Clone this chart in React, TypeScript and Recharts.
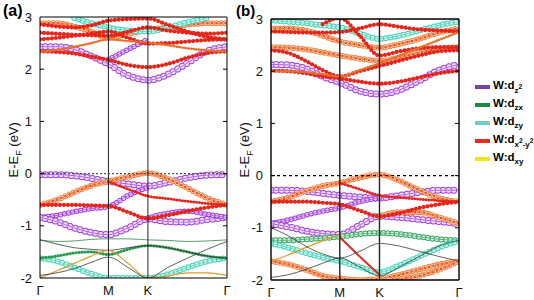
import React from "react";
import { LineChart, Line, XAxis, YAxis, ReferenceLine } from "recharts";

// k-path Γ-M-K-Γ, sampled at 11 points (fractions of the path length)
const kPos = [0, 0.144, 0.289, 0.433, 0.577, 0.744, 0.91, 1.077, 1.244, 1.41, 1.577];
const kTicks = [0, 0.577, 0.91, 1.577];
const kLabels = ["Γ", "M", "K", "Γ"];
const eTicks = [-2, -1, 0, 1, 2, 3];

type Band = (number | null)[];
const _ = null;

// ---- panel (a) ----
const bandsA: Band[] = [
  [2.43, 2.43, 2.38, 2.25, 2.1, 1.88, 1.79, 1.9, 2.12, 2.35, 2.43],
  [2.34, 2.33, 2.3, 2.24, 2.18, 2.08, 2.04, 2.1, 2.22, 2.31, 2.34],
  [2.57, 2.6, 2.64, 2.68, 2.72, 2.6, 2.49, 2.5, 2.53, 2.56, 2.57],
  [2.88, 2.88, 2.82, 2.72, 2.6, 2.68, 2.75, 2.8, 2.85, 2.88, 2.88],
  [2.86, 2.82, 2.8, 2.84, 2.93, 2.96, 2.97, 2.85, 2.72, 2.62, 2.57],
  [2.7, 2.68, 2.66, 2.65, 2.64, 2.72, 2.8, 2.74, 2.7, 2.68, 2.7],
  [_, _, 2.98, 2.88, 2.8, 2.74, 2.72, 2.8, 2.9, 2.98, _],
  [_, _, _, _, 2.18, 2.38, 2.57, _, _, _, _],
  [2.33, 2.37, 2.43, 2.5, 2.57, 2.54, 2.51, 2.46, 2.4, 2.36, 2.34],
  [-0.02, -0.02, -0.04, -0.09, -0.15, -0.2, -0.24, -0.17, -0.08, -0.03, -0.02],
  [-0.6, -0.5, -0.36, -0.23, -0.15, -0.06, 0.01, -0.1, -0.28, -0.47, -0.6],
  [-0.6, -0.6, -0.6, -0.61, -0.62, -0.74, -0.86, -0.8, -0.72, -0.65, -0.6],
  [_, _, _, _, -0.15, -0.3, -0.43, -0.48, -0.53, -0.57, -0.6],
  [-0.84, -0.8, -0.73, -0.67, -0.63, -0.42, -0.26, _, _, _, _],
  [-0.84, -0.92, -1.04, -1.13, -1.17, -1.04, -0.87, -0.92, -0.93, -0.88, -0.84],
  [_, _, _, _, _, _, -0.85, -0.76, -0.72, -0.78, -0.84],
  [-1.27, -1.3, -1.29, -1.26, -1.25, -1.25, -1.27, -1.28, -1.3, -1.29, -1.27],
  [-1.27, -1.35, -1.42, -1.45, -1.47, -1.42, -1.38, -1.42, -1.5, -1.58, -1.62],
  [-1.62, -1.68, -1.8, -1.92, -2.0, -2.0, -2.0, -1.93, -1.8, -1.68, -1.62],
  [-1.62, -1.58, -1.52, -1.5, -1.55, -1.45, -1.38, -1.42, -1.5, -1.58, -1.62],
  [-2.0, -1.86, -1.72, -1.58, -1.47, -1.72, -2.0, -1.96, -1.9, -1.9, -1.95],
  [-1.95, -1.9, -1.82, -1.7, -1.6, -1.8, -2.0, -1.8, -1.62, -1.45, -1.3],
];
const kindsA = [
  "z2", "red", "red", "orn", "red", "red", "teal", "z2m", "ornS",
  "z2", "orn", "red", "redS", "z2m", "z2", "z2m",
  "thinG", "thin", "teal", "green", "thinO", "thin",
];

// ---- panel (b) ----
const bandsB: Band[] = [
  [2.13, 2.12, 2.05, 1.9, 1.78, 1.62, 1.56, 1.64, 1.82, 2.02, 2.13],
  [2.01, 2.0, 1.96, 1.9, 1.86, 1.8, 1.76, 1.8, 1.88, 1.96, 2.01],
  [2.46, 2.45, 2.42, 2.36, 2.3, 2.24, 2.2, 2.26, 2.36, 2.43, 2.46],
  [2.4, 2.35, 2.2, 2.02, 1.9, 2.0, 2.1, 2.2, 2.3, 2.38, 2.4],
  [2.82, 2.82, 2.78, 2.68, 2.57, 2.5, 2.45, 2.52, 2.62, 2.74, 2.82],
  [_, _, _, 2.9, 3.02, 2.68, 2.3, 2.38, 2.44, 2.46, 2.46],
  [2.97, 2.95, 2.92, 2.88, 2.84, 2.72, 2.62, 2.68, 2.78, 2.88, 2.95],
  [2.76, 2.75, 2.74, 2.74, 2.75, 2.82, 2.9, 2.85, 2.8, 2.78, 2.76],
  [2.0, 2.0, 1.98, 1.94, 1.9, 2.02, 2.15, 2.3, 2.45, 2.6, 2.75],
  [-0.28, -0.28, -0.3, -0.34, -0.38, -0.41, -0.43, -0.38, -0.32, -0.28, -0.28],
  [-0.5, -0.42, -0.3, -0.2, -0.14, -0.04, 0.02, -0.1, -0.28, -0.43, -0.5],
  [-0.5, -0.5, -0.5, -0.52, -0.55, -0.67, -0.78, -0.72, -0.62, -0.55, -0.5],
  [_, _, _, _, -0.14, -0.26, -0.38, -0.42, -0.45, -0.48, -0.5],
  [-0.92, -0.85, -0.76, -0.68, -0.62, -0.5, -0.43, _, _, _, _],
  [-0.92, -0.98, -1.06, -1.11, -1.13, -0.95, -0.78, -0.8, -0.84, -0.88, -0.92],
  [_, _, _, _, _, _, -0.78, -0.7, -0.7, -0.8, -0.92],
  [-1.24, -1.24, -1.22, -1.2, -1.17, -1.12, -1.1, -1.12, -1.17, -1.22, -1.24],
  [-1.3, -1.38, -1.48, -1.57, -1.64, -1.75, -1.85, -1.72, -1.55, -1.38, -1.25],
  [-1.64, -1.7, -1.8, -1.92, -1.97, -2.0, -1.98, -1.9, -1.8, -1.7, -1.64],
  [_, _, _, _, _, _, -2.0, -1.98, -1.92, -1.8, -1.64],
  [_, _, _, _, -1.18, -1.55, -1.9, _, _, _, _],
  [-1.64, -1.52, -1.38, -1.25, -1.13, _, _, _, _, _, _],
  [-1.0, -1.15, -1.35, -1.5, -1.58, -1.45, -1.3, -1.35, -1.45, -1.55, -1.64],
  [-1.95, -1.9, -1.8, -1.68, -1.58, -1.75, -1.92, -1.75, -1.55, -1.35, -1.24],
];
const kindsB = [
  "z2", "red", "orn", "red", "orn", "red", "teal", "red", "ornS",
  "z2", "orn", "red", "redS", "z2m", "z2", "orn",
  "greenR", "teal", "orn", "orn", "redL", "thinO", "thin", "thin",
];

const legendItems = [
  { color: "#7b3fa5", main: "W:d", sub: <>z<sup>2</sup></> },
  { color: "#1d8b3d", main: "W:d", sub: <>zx</> },
  { color: "#73cbc2", main: "W:d", sub: <>zy</> },
  { color: "#f0281e", main: "W:d", sub: <>x<sup>2</sup>-y<sup>2</sup></> },
  { color: "#f4e41c", main: "W:d", sub: <>xy</> },
];

type Sty = { c: string; w: number; ring?: boolean; core?: string; coreW?: number; lw?: number; layer: number };
const STYLE: Record<string, Sty> = {
  z2: { c: "#a13de0", w: 7, ring: true, layer: 0 },
  z2m: { c: "#a13de0", w: 5.5, ring: true, layer: 0 },
  orn: { c: "#f0873c", w: 6, ring: true, core: "#e5281c", coreW: 2.6, layer: 0 },
  teal: { c: "#3fd3b6", w: 6, ring: true, layer: 0 },
  greenR: { c: "#35a860", w: 6, ring: true, layer: 0 },
  red: { c: "#e3261b", w: 4.2, layer: 1 },
  redS: { c: "#e3261b", w: 3, layer: 1 },
  ornS: { c: "#e8702a", w: 2.6, layer: 1 },
  green: { c: "#2c9a52", w: 3.2, layer: 1 },
  redL: { c: "#d8301e", w: 0, lw: 2, layer: 2 },
  thin: { c: "#3a3a3a", w: 0, layer: 2 },
  thinG: { c: "#2b8a4a", w: 0, layer: 2 },
  thinO: { c: "#e39a2a", w: 0, lw: 1.2, layer: 2 },
};

const FONT = "'Liberation Sans', Arial, sans-serif";

function buildRows(bands: Band[]) {
  return kPos.map((k, i) => {
    const row: Record<string, number | null> = { k };
    bands.forEach((b, j) => {
      row["s" + j] = b[i];
    });
    return row;
  });
}

function bandLines(kinds: string[]) {
  const out: React.ReactNode[] = [];
  const order = kinds.map((kd, j) => ({ kd, j })).sort((a, b) => STYLE[a.kd].layer - STYLE[b.kd].layer);
  order.forEach(({ kd, j }) => {
    const st = STYLE[kd];
    const key = "s" + j;
    const common = { dataKey: key, type: "monotone" as const, dot: false, activeDot: false, isAnimationActive: false, connectNulls: false };
    if (st.w > 0) {
      const gap = st.ring ? st.w * 0.75 : st.w * 0.95;
      out.push(<Line key={key + "a"} {...common} stroke={st.c} strokeWidth={st.w} strokeDasharray={`0 ${gap}`} strokeLinecap="round" />);
      if (st.ring) {
        out.push(<Line key={key + "b"} {...common} stroke="#fff" strokeOpacity={0.85} strokeWidth={st.w - 2} strokeDasharray={`0 ${gap}`} strokeLinecap="round" />);
      }
      if (st.core) {
        out.push(<Line key={key + "c"} {...common} stroke={st.core} strokeWidth={st.coreW} strokeDasharray={`0 ${gap}`} strokeLinecap="round" />);
      }
    }
    out.push(<Line key={key + "l"} {...common} stroke={st.c} strokeWidth={st.lw ?? 0.8} />);
  });
  return out;
}

function Panel({ bands, kinds, top, right, xAxisH, fermiDash, fermiColor, frameW }: any) {
  const rows = buildRows(bands);
  const dk = 0.034;
  return (
    <LineChart width={240} height={300} data={rows} margin={{ top, right, bottom: 0, left: 0 }}>
      <XAxis
        type="number"
        dataKey="k"
        domain={[0, 1.577]}
        ticks={kTicks}
        interval={0}
        allowDataOverflow
        height={xAxisH}
        tickLine={false}
        axisLine={false}
        tickFormatter={(v: number) => kLabels[kTicks.indexOf(v)]}
        tick={{ fill: "#111", fontSize: 13, fontFamily: FONT }}
      />
      <YAxis
        type="number"
        domain={[-2, 3]}
        ticks={eTicks}
        interval={0}
        allowDataOverflow
        width={40}
        tickLine={false}
        axisLine={false}
        tick={{ fill: "#111", fontSize: 13, fontFamily: FONT }}
      />
      {bandLines(kinds)}
      <ReferenceLine y={0} stroke={fermiColor} strokeDasharray={fermiDash} strokeWidth={1.2} />
      <ReferenceLine x={0.577} stroke="#222" strokeWidth={frameW} />
      <ReferenceLine x={0.91} stroke="#222" strokeWidth={frameW} />
      {eTicks.slice(1, 5).map((e) => (
        <React.Fragment key={e}>
          <ReferenceLine segment={[{ x: 0, y: e }, { x: dk, y: e }]} stroke="#000" />
          <ReferenceLine segment={[{ x: 1.577 - dk, y: e }, { x: 1.577, y: e }]} stroke="#000" />
        </React.Fragment>
      ))}
      <ReferenceLine x={0} stroke="#000" strokeWidth={frameW} />
      <ReferenceLine x={1.577} stroke="#000" strokeWidth={frameW} />
      <ReferenceLine y={-2} stroke="#000" strokeWidth={frameW} />
      <ReferenceLine y={3} stroke="#000" strokeWidth={frameW} />
    </LineChart>
  );
}

function YLabel({ left }: { left: number }) {
  return (
    <div
      style={{
        position: "absolute",
        left: left - 50,
        top: 141,
        width: 100,
        textAlign: "center",
        transform: "rotate(-90deg)",
        fontFamily: FONT,
        fontSize: 13,
        color: "#111",
        whiteSpace: "nowrap",
      }}
    >
      E-E<sub style={{ fontSize: 9 }}>F</sub> (eV)
    </div>
  );
}

export default function App() {
  return (
    <div style={{ position: "absolute", left: 0, top: 0, width: 534, height: 300, background: "#fff", overflow: "hidden" }}>
      <div style={{ position: "absolute", left: 0, top: 0 }}>
        <Panel bands={bandsA} kinds={kindsA} top={17} right={13} xAxisH={22} fermiDash="2 2" fermiColor="#555" frameW={1} />
      </div>
      <div style={{ position: "absolute", left: 231, top: 0 }}>
        <Panel bands={bandsB} kinds={kindsB} top={19} right={12} xAxisH={20} fermiDash="3 3" fermiColor="#000" frameW={1.4} />
      </div>
      <YLabel left={15} />
      <YLabel left={246} />
      <div style={{ position: "absolute", left: 3, top: 2, fontFamily: FONT, fontWeight: "bold", fontSize: 16 }}>(a)</div>
      <div style={{ position: "absolute", left: 236, top: 2, fontFamily: FONT, fontWeight: "bold", fontSize: 15 }}>(b)</div>
      <div style={{ position: "absolute", left: 475, top: 78, fontFamily: FONT, fontWeight: "bold", fontSize: 11.5 }}>
        {legendItems.map((it, i) => (
          <div key={i} style={{ display: "flex", alignItems: "center", height: 18 }}>
            <span style={{ display: "inline-block", width: 15, height: 4, background: it.color, marginRight: 3 }} />
            <span>
              {it.main}
              <sub style={{ fontSize: 8 }}>{it.sub}</sub>
            </span>
          </div>
        ))}
      </div>
    </div>
  );
}
